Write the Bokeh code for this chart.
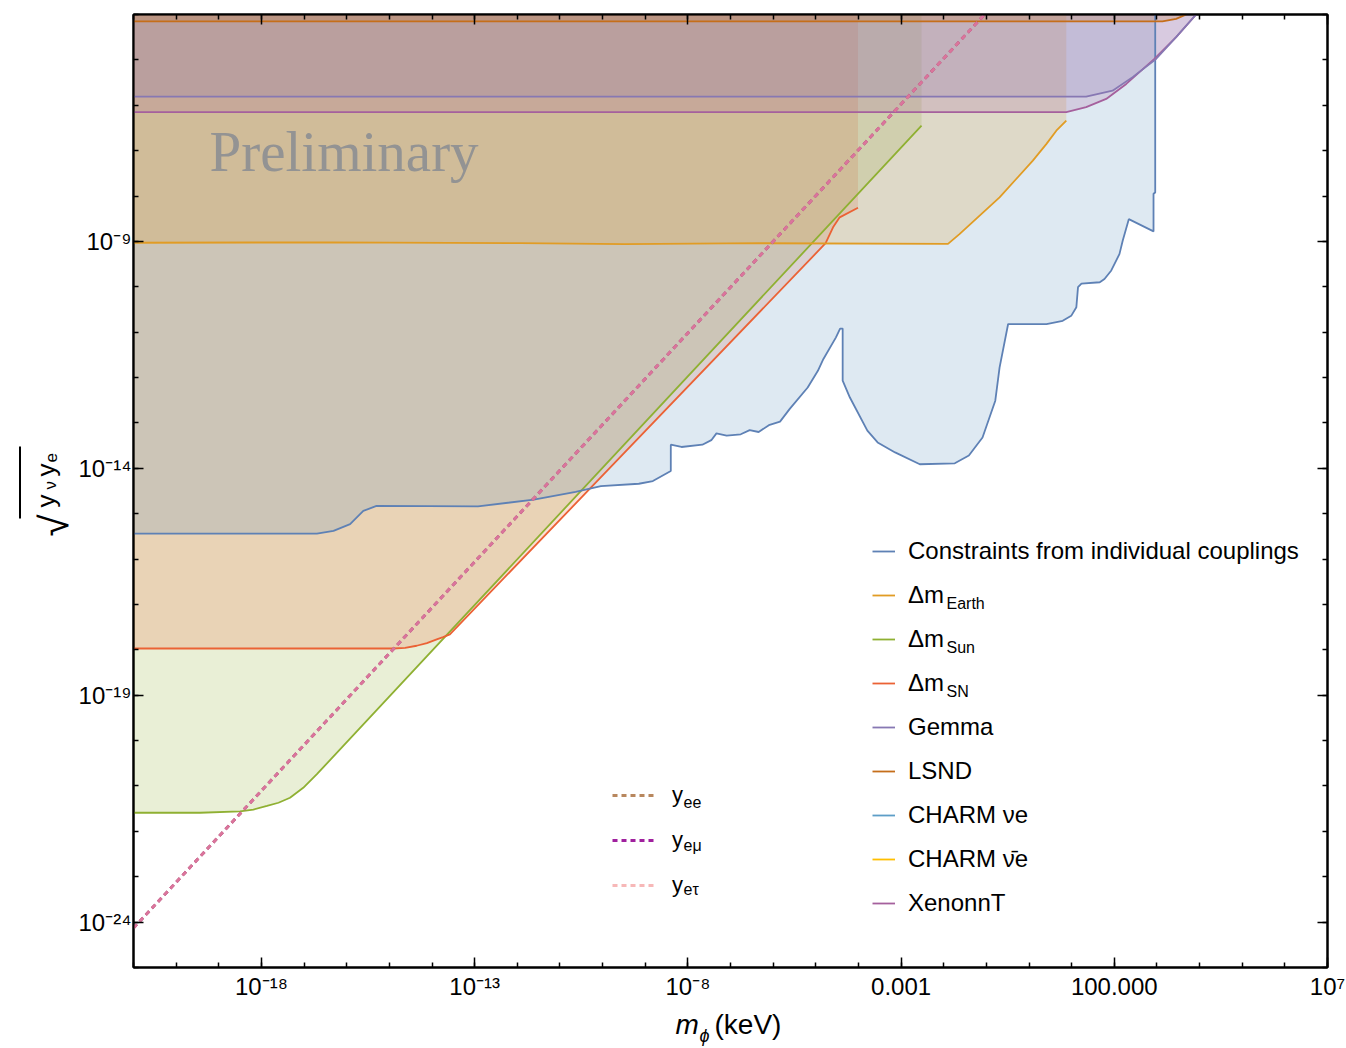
import numpy as np
from bokeh.plotting import figure
from bokeh.layouts import row, column
from bokeh.models import (FixedTicker, LogAxis, CustomJSTickFormatter, Legend, LegendItem,
                          Label, BoxAnnotation, Range1d)
from bokeh.embed import file_html
from bokeh.resources import INLINE

# ---------------- data ----------------
X_MIN, X_MAX = 1e-21, 1e7
Y_MIN, Y_MAX = 1e-25, 1e-4

constraint_m = [1e-21, 2.0e-17, 4.9e-17, 1.2e-16, 2.45e-16, 5.0e-16, 1.2e-13, 2.45e-12, 2.34e-11,
                9.12e-11, 7.08e-10, 1.51e-9, 3.98e-9, 3.98e-9, 7.08e-9, 2.19e-8, 3.55e-8, 4.68e-8,
                8.13e-8, 1.74e-7, 2.82e-7, 4.57e-7, 7.94e-7, 1.45e-6, 2.45e-6, 6.46e-6, 1.12e-5,
                1.51e-5, 2.95e-5, 3.72e-5, 4.27e-5, 4.27e-5, 6.31e-5, 1.62e-4, 2.82e-4, 7.24e-4,
                2.75e-3, 1.82e-2, 3.89e-2, 8.13e-2, 0.162, 0.204, 0.324, 2.57, 6.17, 9.77, 12.9,
                14.1, 17.0, 45.7, 58.9, 85.1, 132, 158, 219, 832, 832, 912, 912]
constraint_y = [3.63e-16, 3.63e-16, 4.17e-16, 5.89e-16, 1.15e-15, 1.48e-15, 1.45e-15, 2.04e-15,
                3.02e-15, 4.07e-15, 4.57e-15, 5.25e-15, 8.71e-15, 3.31e-14, 2.95e-14, 3.31e-14,
                4.17e-14, 5.89e-14, 5.25e-14, 5.62e-14, 6.92e-14, 6.31e-14, 8.91e-14, 1.07e-13,
                2.04e-13, 6.03e-13, 1.41e-12, 2.57e-12, 7.59e-12, 1.2e-11, 1.2e-11, 8.51e-13,
                3.63e-13, 6.76e-14, 3.72e-14, 2.24e-14, 1.23e-14, 1.29e-14, 1.91e-14, 4.79e-14,
                3.09e-13, 1.66e-12, 1.51e-11, 1.51e-11, 1.78e-11, 2.29e-11, 3.55e-11, 9.77e-11,
                1.17e-10, 1.26e-10, 1.48e-10, 2.29e-10, 5.25e-10, 1.05e-9, 3.09e-9, 1.66e-9,
                1.12e-8, 1.2e-8, 1e-4]

earth_m = [1e-21, 4.07e-17, 1.15e-12, 3.31e-10, 4.9e-7, 1.26e-2, 2.34e-2, 0.204, 1.23, 2.57, 4.37, 7.5]
earth_y = [9.33e-10, 9.55e-10, 9.12e-10, 8.71e-10, 9.12e-10, 8.8e-10, 1.45e-9, 9.33e-9, 6.03e-8,
           1.41e-7, 2.75e-7, 4.57e-7]

sun_m = [1e-21, 3.63e-20, 3.16e-19, 6.46e-19, 1.35e-18, 2.51e-18, 4.68e-18, 9.55e-18, 2.0e-17, 3.02e-3]
sun_y = [2.57e-22, 2.57e-22, 2.75e-22, 3.02e-22, 3.63e-22, 4.27e-22, 5.5e-22, 9.12e-22, 1.82e-21, 3.55e-7]

sn_m = [1e-21, 1.23e-15, 2.34e-15, 4.37e-15, 7.59e-15, 1.29e-14, 1.82e-14, 2.63e-14, 1.7e-5,
        2.54e-5, 3.63e-5, 9.77e-5]
sn_y = [1.07e-18, 1.07e-18, 1.1e-18, 1.23e-18, 1.41e-18, 1.7e-18, 1.91e-18, 2.19e-18, 9.12e-10,
        2.04e-9, 3.39e-9, 5.5e-9]

gemma_m = [1e-21, 21.9, 91.2, 269, 955, 2818, 8318]
gemma_y = [1.55e-6, 1.55e-6, 2.09e-6, 4.17e-6, 1.05e-5, 3.16e-5, 1e-4]

xenon_m = [1e-21, 7.5, 21.9, 64.6, 191, 871, 2818, 8318]
xenon_y = [7.08e-7, 7.08e-7, 9.12e-7, 1.38e-6, 2.95e-6, 1.05e-5, 3.16e-5, 1e-4]

lsnd_m = [1e-21, 1349, 2818, 4898]
lsnd_y = [7.08e-5, 7.08e-5, 8.04e-5, 1e-4]

# the CHARM bounds lie outside the plotted window: no visible points
charm_nu_m, charm_nu_y = [float("nan")], [float("nan")]
charm_nubar_m, charm_nubar_y = [float("nan")], [float("nan")]

yukawa_m = [1e-21, 0.091]
yukawa_y = [7.4e-25, 1e-4]

x_major = [1e-18, 1e-13, 1e-8, 1e-3, 1e2, 1e7]
x_labels = ["10⁻¹⁸", "10⁻¹³", "10⁻⁸", "0.001", "100.000", "10⁷"]
y_major = [1e-24, 1e-19, 1e-14, 1e-9]
y_labels = ["10⁻²⁴", "10⁻¹⁹", "10⁻¹⁴", "10⁻⁹"]
x_minor = [10.0 ** k for k in range(-21, 8)]
y_minor = [10.0 ** k for k in range(-25, -3)]

C_BLUE, C_EARTH, C_SUN, C_SN = "#5e81b5", "#e19c24", "#8fb032", "#eb6235"
C_GEMMA, C_LSND, C_CHARM, C_CHARMBAR, C_XENON = "#8778b3", "#c56e1a", "#5d9ec7", "#ffbf00", "#a5609d"
C_YEE, C_YEMU, C_YETAU = "#b8875e", "#a0209e", "#f49a9a"

FONT = "Liberation Sans"
W, H = 1346, 1048
YLAB_W = 74
XLAB_H = 43
FRAME_L, FRAME_R, FRAME_B = 133, 1327, 967


def sx(cx):
    return cx - FRAME_L


def sy(cy):
    return FRAME_B - cy


p = figure(width=W - YLAB_W, height=H - XLAB_H, x_axis_type="log", y_axis_type="log",
           x_range=Range1d(X_MIN, X_MAX), y_range=Range1d(Y_MIN, Y_MAX),
           output_backend="svg", toolbar_location=None,
           min_border_left=FRAME_L - YLAB_W, min_border_right=W - FRAME_R, min_border_top=14,
           min_border_bottom=(H - XLAB_H) - FRAME_B)
p.xgrid.visible = False
p.ygrid.visible = False
p.outline_line_color = "black"
p.outline_line_width = 2
p.background_fill_color = "white"
p.border_fill_color = "white"


def fmt(vals, labs):
    return CustomJSTickFormatter(args=dict(vals=vals, labs=labs), code="""
        for (let i = 0; i < vals.length; i++) {
            if (Math.abs(Math.log10(tick) - Math.log10(vals[i])) < 1e-6) return labs[i];
        }
        return "";
    """)


def style_axis(ax, label_size="24px"):
    ax.axis_line_color = "black"
    ax.axis_line_width = 2
    ax.major_tick_in = 10
    ax.major_tick_out = 0
    ax.minor_tick_in = 5
    ax.minor_tick_out = 0
    ax.major_tick_line_width = 1.5
    ax.minor_tick_line_width = 1.5
    ax.major_tick_line_color = "black"
    ax.minor_tick_line_color = "black"
    ax.major_label_text_font = FONT
    ax.major_label_text_font_size = label_size
    ax.major_label_text_color = "black"


xa = p.xaxis[0]
xa.ticker = FixedTicker(ticks=x_major, minor_ticks=x_minor)
xa.formatter = fmt(x_major, x_labels)
style_axis(xa)
xa.major_label_standoff = 5

ya = p.yaxis[0]
ya.ticker = FixedTicker(ticks=y_major, minor_ticks=y_minor)
ya.formatter = fmt(y_major, y_labels)
style_axis(ya)
ya.major_label_standoff = 2

top = LogAxis(ticker=FixedTicker(ticks=x_major, minor_ticks=x_minor),
              formatter=CustomJSTickFormatter(code="return ''"))
style_axis(top, "1px")
top.major_label_standoff = 0
p.add_layout(top, "above")
right = LogAxis(ticker=FixedTicker(ticks=y_major, minor_ticks=y_minor),
                formatter=CustomJSTickFormatter(code="return ''"))
style_axis(right, "1px")
right.major_label_standoff = 0
p.add_layout(right, "right")


def region(ms, ys, color, alpha=0.2):
    xs = list(ms) + [ms[-1], X_MIN]
    yv = list(ys) + [Y_MAX, Y_MAX]
    p.patch(xs, yv, fill_color=color, fill_alpha=alpha, line_alpha=0)


# filled regions (excluded above each boundary)
region(sun_m, sun_y, C_SUN)
region(sn_m, sn_y, C_SN)
region(constraint_m, constraint_y, "#5b8fbf", 0.2)
region(earth_m, earth_y, C_EARTH)
region(xenon_m, xenon_y, C_XENON)
region(gemma_m, gemma_y, C_GEMMA)
region(lsnd_m, lsnd_y, C_LSND)

LW = 1.8
r_sun = p.line(sun_m, sun_y, line_color=C_SUN, line_width=LW)
r_sn = p.line(sn_m, sn_y, line_color=C_SN, line_width=LW)
r_con = p.line(constraint_m, constraint_y, line_color=C_BLUE, line_width=LW)
r_earth = p.line(earth_m, earth_y, line_color=C_EARTH, line_width=LW)
r_xenon = p.line(xenon_m, xenon_y, line_color=C_XENON, line_width=LW)
r_gemma = p.line(gemma_m, gemma_y, line_color=C_GEMMA, line_width=LW)
r_lsnd = p.line(lsnd_m, lsnd_y, line_color=C_LSND, line_width=LW)
r_charm = p.line(charm_nu_m, charm_nu_y, line_color=C_CHARM, line_width=LW)
r_charmbar = p.line(charm_nubar_m, charm_nubar_y, line_color=C_CHARMBAR, line_width=LW)

r_yee = p.line(yukawa_m, yukawa_y, line_color=C_YEE, line_width=2.8, line_dash="5 4")
r_yemu = p.line(yukawa_m, yukawa_y, line_color=C_YEMU, line_width=2.8, line_dash="5 4")
r_yetau = p.line(yukawa_m, yukawa_y, line_color=C_YETAU, line_width=2.8, line_dash="5 4",
                 line_alpha=0.7)

# main legend
items = [
    ("Constraints from individual couplings", r_con),
    ("Δm", r_earth),
    ("Δm", r_sun),
    ("Δm", r_sn),
    ("Gemma", r_gemma),
    ("LSND", r_lsnd),
    ("CHARM νe", r_charm),
    ("CHARM ν̄e", r_charmbar),
    ("XenonnT", r_xenon),
]
leg = Legend(items=[LegendItem(label=t, renderers=[r]) for t, r in items],
             location=(sx(872), sy(918)), orientation="vertical",
             glyph_width=23, glyph_height=30, label_height=30, spacing=14,
             padding=0, margin=0, label_standoff=13,
             label_text_font=FONT, label_text_font_size="24px", label_text_color="black",
             border_line_color=None, background_fill_alpha=0)
p.add_layout(leg)

leg2 = Legend(items=[LegendItem(label="y", renderers=[r_yee]),
                     LegendItem(label="y", renderers=[r_yemu]),
                     LegendItem(label="y", renderers=[r_yetau])],
              location=(sx(612), sy(900)), orientation="vertical",
              glyph_width=45, glyph_height=30, label_height=30, spacing=15,
              padding=0, margin=0, label_standoff=15,
              label_text_font=FONT, label_text_font_size="22px", label_text_color="black",
              border_line_color=None, background_fill_alpha=0)
p.add_layout(leg2)


def lab(fig, text, x, y, size, units="screen", font=FONT, style="normal", color="black",
        angle=0.0, align="left", baseline="alphabetic"):
    fig.add_layout(Label(x=x, y=y, x_units=units, y_units=units, text=text,
                         text_font=font, text_font_size=size, text_font_style=style,
                         text_color=color, angle=angle, text_align=align,
                         text_baseline=baseline))


# subscripts of legend entries
for t, cy in [("Earth", 603), ("Sun", 647), ("SN", 691)]:
    lab(p, t, sx(946), sy(cy), "16px")
for t, cy in [("ee", 801), ("eμ", 845), ("eτ", 889)]:
    lab(p, t, sx(683), sy(cy), "16px")

# watermark
lab(p, "Preliminary", sx(209), sy(151), "57px", font="Liberation Serif", color="#939393")

# ---- x-axis title strip (data coordinates = page pixels) ----
xl = figure(width=W - YLAB_W, height=XLAB_H, x_range=Range1d(FRAME_L, FRAME_R),
            y_range=Range1d(H, H - XLAB_H), output_backend="svg", toolbar_location=None,
            x_axis_location=None, y_axis_location=None,
            min_border_left=FRAME_L - YLAB_W, min_border_right=W - FRAME_R,
            min_border_top=0, min_border_bottom=0)
xl.outline_line_color = None
xl.grid.visible = False
lab(xl, "m", 675, 1024, "28px", units="data", style="italic")
lab(xl, "ϕ", 699, 1035, "18px", units="data", style="italic")
lab(xl, "(keV)", 714, 1024, "28px", units="data")

# ---- y-axis title strip (x = page pixels, y = H - page pixels) ----
yl = figure(width=YLAB_W, height=H, x_range=Range1d(0, YLAB_W), y_range=Range1d(0, H),
            output_backend="svg", toolbar_location=None,
            x_axis_location=None, y_axis_location=None, min_border=0)
yl.outline_line_color = None
yl.grid.visible = False
A = np.pi / 2
lab(yl, "√", 53, H - 536, "40px", units="data", angle=A)
lab(yl, "y", 45, H - 507, "26px", units="data", angle=A)
lab(yl, "ν", 50, H - 489, "17px", units="data", angle=A)
lab(yl, "y", 45, H - 476, "26px", units="data", angle=A)
lab(yl, "e", 50, H - 462, "17px", units="data", angle=A)
yl.add_layout(BoxAnnotation(left=18.5, right=20.5, bottom=H - 518, top=H - 446,
                            fill_color="black", fill_alpha=1, line_color=None))

layout = row(yl, column(p, xl, spacing=0), spacing=0)
open("out.html", "w").write(file_html(layout, INLINE))
